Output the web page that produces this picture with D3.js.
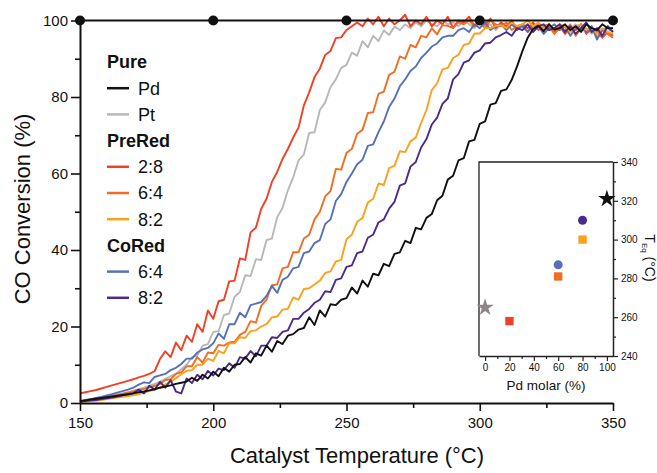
<!DOCTYPE html>
<html>
<head>
<meta charset="utf-8">
<script src="https://cdn.jsdelivr.net/npm/d3@7"></script>
<style>
  body { margin: 0; background: #fff; }
  text { font-family: "Liberation Sans", Arial, sans-serif; fill: #111; }
</style>
</head>
<body>
<svg width="657" height="473"></svg>
<script>
// data, one sample every 2 degC from 150 to 350
var temps = d3.range(150, 351, 2);

var pdConv = [
  0.5, 0.7, 0.9, 1.1, 1.3, 1.5, 1.7, 1.9, 2.1, 2.3,
  2.5, 2.8, 3.0, 3.3, 3.6, 4.0, 4.3, 4.6, 5.0, 5.3,
  5.6, 6.6, 5.8, 7.4, 6.4, 8.2, 7.0, 9.2, 8.2, 10,
  10.2, 12, 10.6, 13, 12.4, 15, 13.4, 16.2, 15.4, 17.6,
  18, 19.2, 19.6, 22.4, 20.4, 24.2, 22.6, 25.8, 25.6, 27,
  27.4, 30.2, 28.6, 32, 30.4, 33.8, 33.4, 36.4, 35.8, 39,
  39.4, 42.4, 41.8, 45.8, 45.4, 48.4, 49.4, 53, 54.2, 58.4,
  59.4, 63.4, 64, 68.4, 68.8, 73, 73.6, 78, 78.4, 81.6,
  82, 84.5, 88, 92, 95.5, 97.8, 98.6, 97.2, 99, 97.6,
  98, 99, 97.5, 98.5, 97, 99, 98, 97.5, 99, 98,
  98
];
var ptConv = [
  0.5, 0.7, 0.9, 1.1, 1.4, 1.6, 1.9, 2.2, 2.5, 2.8,
  3.2, 3.6, 4.0, 4.5, 5.0, 5.6, 6.3, 7.0, 7.6, 8.8,
  10, 12, 12.4, 15, 15.4, 18.6, 18.8, 23, 23.4, 27.8,
  29, 33.4, 33.2, 37.6, 37.4, 42.6, 43, 48.6, 51, 55.6,
  59, 63.4, 65, 70.6, 70.8, 76.6, 78.6, 82.6, 84.6, 87.6,
  88.4, 91.6, 90.8, 94.6, 93, 96, 94.6, 97.4, 96.2, 98.4,
  97.5, 99, 98, 99.5, 98.5, 100, 99, 98.5, 100, 99,
  99.5, 98.5, 100, 99, 98, 99.5, 98.5, 99, 97.5, 99,
  98, 99, 97.5, 98.5, 99, 97, 98.5, 98, 99, 97.5,
  98.5, 97, 98, 99, 97.5, 98, 96.5, 98, 97.5, 98.5,
  97
];
var pre28Conv = [
  2.5, 2.8, 3.1, 3.4, 3.8, 4.2, 4.6, 5.0, 5.4, 5.8,
  6.2, 6.7, 7.1, 7.6, 8.3, 11.5, 13.5, 12.0, 15.8, 13.8,
  17.6, 16, 20.6, 18.6, 24.2, 22, 26.6, 27, 31.8, 32,
  37.8, 37.4, 44.6, 45.8, 50.8, 53.4, 57.8, 60.4, 63.8, 66.4,
  69.4, 72, 77.8, 81.2, 85.2, 87.4, 91, 92, 95.4, 95.6,
  97.5, 98.5, 99.5, 98.5, 100.5, 99, 101, 98.5, 100.5, 99,
  100, 101.5, 98.5, 100, 99, 101, 98.5, 100, 99, 101,
  98, 100, 99.5, 101, 98.5, 100, 99, 100.5, 98, 99.5,
  98.5, 100, 97.5, 99, 98, 99.5, 97.5, 98.5, 99, 97,
  98.5, 96.5, 98, 97.5, 99, 96.5, 98, 97, 95.5, 97,
  96
];
var pre64Conv = [
  0.5, 0.7, 0.9, 1.1, 1.3, 1.5, 1.8, 2.1, 2.4, 2.7,
  3.0, 3.4, 3.7, 4.1, 4.5, 5.0, 6.0, 6.2, 7.6, 8.0,
  9.6, 9.6, 12, 10.6, 13.2, 13, 15.2, 15, 15.8, 16,
  17.8, 18.6, 21.4, 21, 25.4, 27, 30.8, 31, 35.2, 35.6,
  39.4, 39.4, 43, 44, 48, 50, 54, 55.4, 61.2, 61,
  65.4, 66.4, 70.4, 71.4, 75.8, 76, 80.8, 81.4, 85.8, 86.6,
  90.6, 90, 93.6, 93, 96, 95.6, 98, 96.4, 98.8, 98.6,
  98, 99.5, 99, 100, 98.5, 99.5, 98, 100, 99, 98.5,
  99.5, 97.5, 98.5, 99, 97, 98.5, 99, 97.5, 98.5, 96.5,
  98, 97.5, 99, 96, 98, 97, 98.5, 95.5, 97.5, 96.5,
  95.5
];
var pre82Conv = [
  0.3, 0.4, 0.5, 0.6, 0.8, 1.0, 1.2, 1.4, 1.6, 1.8,
  2.0, 2.3, 2.7, 3.1, 3.5, 4.0, 4.8, 5.5, 6.5, 7.5,
  8.4, 8.6, 10, 10, 11.6, 11, 13.6, 13, 15.6, 15.6,
  17.2, 17, 18.8, 19, 20, 20.6, 22.4, 22.6, 24.4, 24.6,
  27.6, 27, 29.8, 30, 31, 32, 34, 34.4, 37, 37.4,
  42.8, 44, 47.4, 48.4, 52.4, 53.4, 57.4, 57, 61.4, 62,
  65.8, 65.6, 68.4, 69.4, 73.2, 76.6, 81.8, 83.6, 87.2, 87.6,
  90.2, 91, 93.6, 94, 96.6, 96.6, 98, 98, 98.6, 98.8,
  98, 99.5, 98.5, 99, 100, 98.5, 99.5, 98, 99, 97.5,
  99, 98.5, 97, 98.5, 99, 97.5, 98, 96.5, 98, 97,
  96.5
];
var co64Conv = [
  0.5, 0.8, 1.0, 1.3, 1.6, 2.0, 2.3, 2.7, 3.1, 3.5,
  4.0, 4.8, 5.4, 5.2, 6.8, 7.2, 7.6, 8.6, 9.2, 10.2,
  11.6, 11.6, 13.2, 14, 14.4, 15.6, 18.2, 16.8, 20.6, 20.6,
  23.6, 22.4, 25.6, 26, 26.4, 28, 30.6, 28.8, 32.2, 33,
  35.2, 35.6, 39.2, 39.6, 41.8, 42.6, 46.8, 48, 52.8, 54.6,
  57.8, 60, 62.4, 63.6, 67.2, 67.6, 70.8, 73.6, 77.4, 79.6,
  82.8, 84.6, 86.8, 88, 90.2, 91.6, 93.2, 94, 95.6, 96,
  96, 97.5, 98, 97, 99, 98, 99.5, 97.5, 98.5, 99,
  97.5, 99, 98, 98.5, 97, 99, 98.5, 96.5, 98, 99,
  97.5, 98.5, 96, 98, 99, 97, 98.5, 95, 97.5, 98,
  97
];
var co82Conv = [
  0.4, 0.5, 0.7, 0.8, 1.0, 1.2, 1.4, 1.7, 2.0, 2.3,
  2.6, 3.5, 2.5, 4.5, 3.5, 5.5, 4.0, 6.0, 3.0, 2.5,
  6.4, 5.2, 7.4, 6.2, 8.4, 7.2, 9, 8.6, 10.4, 9.2,
  12, 11.6, 13.6, 12.2, 15, 15, 17.2, 17, 18.6, 19,
  22, 22, 23.6, 24.6, 26.2, 27, 29.2, 29, 32.2, 32.6,
  35.6, 36, 39.2, 39.6, 43.2, 44, 47.2, 48, 50.8, 52.6,
  56.8, 57.4, 61.8, 63, 66.8, 69, 72.8, 74.6, 78.2, 79.6,
  84.6, 86, 89, 89.6, 91.6, 92.2, 94, 94.2, 95.6, 96.2,
  97, 96, 98, 97.5, 99, 97, 98.5, 99, 97.5, 98,
  99, 97, 98.5, 96.5, 98, 99.5, 97, 98, 96, 98.5,
  97
];

// equilibrium line with markers
var eqTemps = [150, 200, 250, 300, 350];
var eqConv = [100, 100, 100, 100, 100];

// inset: T_Eq vs Pd molar fraction
var insetPd = [0, 20, 60, 60, 80, 80, 100];
var insetTeq = [265, 258, 281, 287, 300, 310, 321];
var insetKey = ["pt", "pre28", "pre64", "co64", "pre82", "co82", "pd"];

// legend
var legendGroups = ["Pure", "PreRed", "CoRed"];
var legendLabels = [["Pd", "Pt"], ["2:8", "6:4", "8:2"], ["6:4", "8:2"]];
var legendKeys = [["pd", "pt"], ["pre28", "pre64", "pre82"], ["co64", "co82"]];

var xTicks = [150, 200, 250, 300, 350];
var yTicks = [0, 20, 40, 60, 80, 100];

// styles
var color = {
  pd: "#111111", pt: "#b8b8b6", pre28: "#ee4126", pre64: "#f26d22",
  pre82: "#fba11d", co64: "#5571b6", co82: "#4a2a8c"
};
var insetColor = {
  pd: "#111111", pt: "#8c8786", pre28: "#ee4126", pre64: "#f26d22",
  pre82: "#fba11d", co64: "#5571b6", co82: "#4a2a8c"
};
var series = {
  pd: pdConv, pt: ptConv, pre28: pre28Conv, pre64: pre64Conv,
  pre82: pre82Conv, co64: co64Conv, co82: co82Conv
};
var drawOrder = ["pt", "pre28", "pre64", "co64", "pre82", "co82", "pd"];

var svg = d3.select("svg");

var x = d3.scaleLinear().domain([150, 350]).range([80, 613]);
var y = d3.scaleLinear().domain([0, 100]).range([403, 20.5]);

// curves
var line = d3.line()
    .x(function(d) { return x(d[0]); })
    .y(function(d) { return y(d[1]); });

svg.append("g").selectAll("path")
  .data(drawOrder)
  .enter().append("path")
    .attr("fill", "none")
    .attr("stroke", function(k) { return color[k]; })
    .attr("stroke-width", 1.9)
    .attr("stroke-linejoin", "round")
    .attr("d", function(k) {
      return line(temps.map(function(t, i) { return [t, series[k][i]]; }));
    });

// axes
var xAxis = svg.append("g")
    .attr("transform", "translate(0," + y(0) + ")")
    .call(d3.axisBottom(x).tickValues(xTicks).tickSize(8).tickSizeOuter(0).tickPadding(6));
var xMinor = svg.append("g")
    .attr("transform", "translate(0," + y(0) + ")")
    .call(d3.axisBottom(x).tickValues([175, 225, 275, 325]).tickSize(5).tickFormat(""));
var yAxis = svg.append("g")
    .attr("transform", "translate(" + x(150) + ",0)")
    .call(d3.axisLeft(y).tickValues(yTicks).tickSize(9).tickSizeOuter(0).tickPadding(3));
var yMinor = svg.append("g")
    .attr("transform", "translate(" + x(150) + ",0)")
    .call(d3.axisLeft(y).tickValues([10, 30, 50, 70, 90]).tickSize(5).tickFormat(""));

[xMinor, yMinor].forEach(function(g) { g.select(".domain").remove(); });
[xAxis, yAxis, xMinor, yMinor].forEach(function(g) {
  g.selectAll("line").attr("stroke", "#111").attr("stroke-width", 1.6);
  g.selectAll(".domain").attr("stroke", "#111").attr("stroke-width", 2);
  g.selectAll("text").attr("font-size", 15).attr("fill", "#111")
    .style("font-family", "'Liberation Sans', Arial, sans-serif");
});

// equilibrium line + dots
var eqPts = eqTemps.map(function(t, i) { return [t, eqConv[i]]; });
svg.append("path")
    .attr("fill", "none").attr("stroke", "#111").attr("stroke-width", 1.8)
    .attr("d", line(eqPts));
svg.append("g").selectAll("circle")
  .data(eqPts)
  .enter().append("circle")
    .attr("cx", function(d) { return x(d[0]); })
    .attr("cy", function(d) { return y(d[1]); })
    .attr("r", 5)
    .attr("fill", "#111");

// axis titles
svg.append("text")
    .attr("x", 357).attr("y", 463)
    .attr("text-anchor", "middle")
    .attr("font-size", 22)
    .text("Catalyst Temperature (°C)");
svg.append("text")
    .attr("transform", "translate(30,209) rotate(-90)")
    .attr("text-anchor", "middle")
    .attr("font-size", 22)
    .text("CO Conversion (%)");

// legend
var legend = svg.append("g").attr("transform", "translate(107,62)");
var row = 0;
legendGroups.forEach(function(g, gi) {
  legend.append("text")
      .attr("x", 0).attr("y", row * 26.2)
      .attr("dy", "0.35em")
      .attr("font-size", 18).attr("font-weight", "bold")
      .text(g);
  row++;
  legendLabels[gi].forEach(function(lab, li) {
    var k = legendKeys[gi][li];
    legend.append("line")
        .attr("x1", 0).attr("x2", 22)
        .attr("y1", row * 26.2).attr("y2", row * 26.2)
        .attr("stroke", color[k]).attr("stroke-width", 2.5);
    legend.append("text")
        .attr("x", 31).attr("y", row * 26.2)
        .attr("dy", "0.35em")
        .attr("font-size", 18)
        .text(lab);
    row++;
  });
});

// inset
var xi = d3.scaleLinear().domain([-5, 105]).range([479, 613]);
var yi = d3.scaleLinear().domain([240, 340]).range([356, 162]);
var inset = svg.append("g");

inset.append("path")
    .attr("fill", "none").attr("stroke", "#222").attr("stroke-width", 1.3)
    .attr("d", "M" + xi(-5) + "," + yi(240) + "V" + yi(340) + "H" + xi(105));

var xiAxis = inset.append("g")
    .attr("transform", "translate(0," + yi(240) + ")")
    .call(d3.axisBottom(xi).tickValues([0, 20, 40, 60, 80, 100]).tickSize(5).tickSizeOuter(0).tickPadding(3));
var xiMinor = inset.append("g")
    .attr("transform", "translate(0," + yi(240) + ")")
    .call(d3.axisBottom(xi).tickValues([10, 30, 50, 70, 90]).tickSize(3).tickFormat(""));
var yiAxis = inset.append("g")
    .attr("transform", "translate(" + xi(105) + ",0)")
    .call(d3.axisRight(yi).tickValues([240, 260, 280, 300, 320, 340]).tickSize(5).tickSizeOuter(0).tickPadding(3));
var yiMinor = inset.append("g")
    .attr("transform", "translate(" + xi(105) + ",0)")
    .call(d3.axisRight(yi).tickValues([250, 270, 290, 310, 330]).tickSize(3).tickFormat(""));
[xiMinor, yiMinor].forEach(function(g) { g.select(".domain").remove(); });
[xiAxis, yiAxis, xiMinor, yiMinor].forEach(function(g) {
  g.selectAll("line").attr("stroke", "#222").attr("stroke-width", 1.2);
  g.selectAll(".domain").attr("stroke", "#222").attr("stroke-width", 1.5);
  g.selectAll("text").attr("font-size", 10).attr("fill", "#222")
    .style("font-family", "'Liberation Sans', Arial, sans-serif");
});

var shape = function(k) {
  if (k == "pd" || k == "pt") return d3.symbol().type(d3.symbolStar).size(95)();
  if (k.indexOf("co") == 0) return d3.symbol().type(d3.symbolCircle).size(64)();
  return d3.symbol().type(d3.symbolSquare).size(70)();
};
inset.append("g").selectAll("path")
  .data(insetKey)
  .enter().append("path")
    .attr("transform", function(k, i) {
      return "translate(" + xi(insetPd[i]) + "," + yi(insetTeq[i]) + ")";
    })
    .attr("d", shape)
    .attr("fill", function(k) { return insetColor[k]; });

inset.append("text")
    .attr("x", 546).attr("y", 390)
    .attr("text-anchor", "middle")
    .attr("font-size", 13.5)
    .text("Pd molar (%)");

var tLabel = inset.append("text")
    .attr("transform", "translate(645,258) rotate(90)")
    .attr("text-anchor", "middle")
    .attr("font-size", 14);
tLabel.append("tspan").text("T");
tLabel.append("tspan").attr("font-size", 8).attr("dy", 3).text("Eq");
tLabel.append("tspan").attr("dy", -3).text(" (°C)");
</script>
</body>
</html>
